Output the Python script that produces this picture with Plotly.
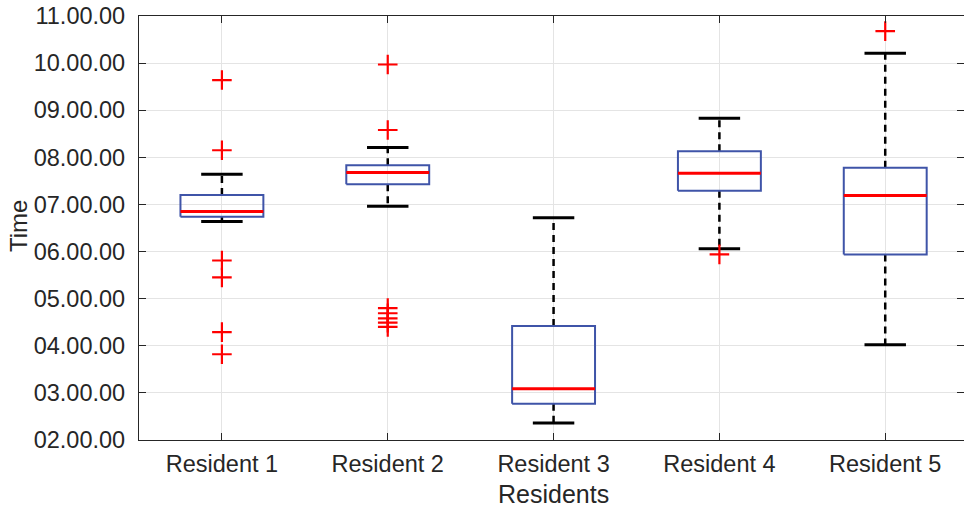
import plotly.graph_objects as go

# Daily time distribution per resident (hours), boxplot statistics
residents = ["Resident 1", "Resident 2", "Resident 3", "Resident 4", "Resident 5"]
q1 = [6.74, 7.43, 2.77, 7.29, 5.94]
median = [6.85, 7.68, 3.09, 7.66, 7.19]
q3 = [7.20, 7.83, 4.42, 8.13, 7.78]
whisker_low = [6.64, 6.96, 2.36, 6.06, 4.02]
whisker_high = [7.64, 8.21, 6.72, 8.83, 10.21]
outliers = [
    [9.64, 8.15, 5.81, 5.45, 4.29, 3.82],
    [9.97, 8.58, 4.80, 4.69, 4.58, 4.49, 4.40],
    [],
    [5.94],
    [10.68],
]
y_ticks = [2, 3, 4, 5, 6, 7, 8, 9, 10, 11]
y_tick_labels = ["02.00.00", "03.00.00", "04.00.00", "05.00.00", "06.00.00",
                 "07.00.00", "08.00.00", "09.00.00", "10.00.00", "11.00.00"]

BOX_HALF = 0.25
CAP_HALF = 0.125
BOX_COLOR = "#3f54a8"
TEXT_COLOR = "#262626"
FONT = "Liberation Sans, Arial, sans-serif"

fig = go.Figure()

for i, name in enumerate(residents):
    x = i + 1
    # dashed whiskers
    fig.add_trace(go.Scatter(
        x=[x, x, None, x, x],
        y=[q3[i], whisker_high[i], None, q1[i], whisker_low[i]],
        mode="lines", line=dict(color="black", width=2.5, dash="7px,5px"),
        hoverinfo="skip", showlegend=False))
    # whisker caps
    fig.add_trace(go.Scatter(
        x=[x - CAP_HALF, x + CAP_HALF, None, x - CAP_HALF, x + CAP_HALF],
        y=[whisker_high[i], whisker_high[i], None, whisker_low[i], whisker_low[i]],
        mode="lines", line=dict(color="black", width=3),
        hoverinfo="skip", showlegend=False))
    # box
    fig.add_trace(go.Scatter(
        x=[x - BOX_HALF, x + BOX_HALF, x + BOX_HALF, x - BOX_HALF, x - BOX_HALF],
        y=[q1[i], q1[i], q3[i], q3[i], q1[i]],
        mode="lines", line=dict(color=BOX_COLOR, width=2),
        hoverinfo="skip", showlegend=False))
    # median
    fig.add_trace(go.Scatter(
        x=[x - BOX_HALF, x + BOX_HALF],
        y=[median[i], median[i]],
        mode="lines", line=dict(color="#ff0000", width=3),
        hoverinfo="skip", showlegend=False))
    # outliers
    if outliers[i]:
        fig.add_trace(go.Scatter(
            x=[x] * len(outliers[i]), y=outliers[i],
            mode="markers",
            marker=dict(symbol="cross-thin", size=14,
                        line=dict(color="#ff0000", width=2.2)),
            hoverinfo="skip", showlegend=False))

L, R, T, B = 139, 0, 16, 71
W, H = 964, 511
pw, ph = W - L - R, H - T - B

fig.update_layout(
    width=W, height=H,
    margin=dict(l=L, r=R, t=T, b=B),
    plot_bgcolor="white", paper_bgcolor="white",
    font=dict(family=FONT, color=TEXT_COLOR, size=23),
    xaxis=dict(
        range=[0.5, 5.475], tickvals=[1, 2, 3, 4, 5], ticktext=residents,
        showgrid=True, gridcolor="#e4e4e4", gridwidth=1,
        showline=True, linecolor=TEXT_COLOR, linewidth=1.2, mirror="ticks",
        ticks="inside", ticklen=7, tickcolor=TEXT_COLOR, tickwidth=1.2,
        tickfont=dict(size=23.5, color=TEXT_COLOR), zeroline=False,
        ticklabelstandoff=3,
    ),
    yaxis=dict(
        range=[2, 11], tickvals=y_ticks, ticktext=y_tick_labels,
        showgrid=True, gridcolor="#e4e4e4", gridwidth=1,
        showline=True, linecolor=TEXT_COLOR, linewidth=1.2, mirror="ticks",
        ticks="inside", ticklen=7, tickcolor=TEXT_COLOR, tickwidth=1.2,
        tickfont=dict(size=23.5, color=TEXT_COLOR), zeroline=False,
        ticklabelstandoff=8,
    ),
    annotations=[
        dict(text="Residents", xref="paper", yref="paper",
             x=(553.7 - L) / pw, y=(T + ph - 494) / ph,
             xanchor="center", yanchor="middle", showarrow=False,
             font=dict(size=25, color=TEXT_COLOR)),
        dict(text="Time", xref="paper", yref="paper",
             x=(19 - L) / pw, y=(T + ph - 226) / ph,
             xanchor="center", yanchor="middle", showarrow=False,
             textangle=-90, font=dict(size=24, color=TEXT_COLOR)),
    ],
)

fig.write_html("out.html")
